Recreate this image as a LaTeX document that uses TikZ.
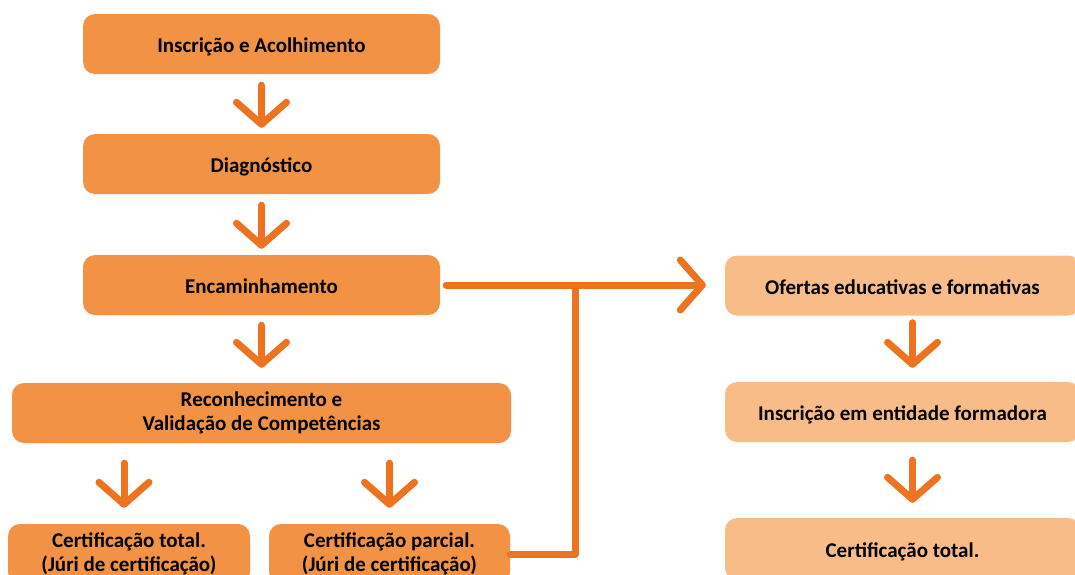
\documentclass[tikz,border=0pt]{standalone}
\usepackage{fontspec}
\setmainfont{Carlito}
\usetikzlibrary{arrows.meta}
\definecolor{boxdark}{HTML}{F19245}
\definecolor{boxlight}{HTML}{F8BC88}
\definecolor{arr}{HTML}{ED7320}
\begin{document}
\begin{tikzpicture}[x=1pt,y=-1pt,
  box/.style={rounded corners=12pt, fill=boxdark, font=\fontsize{21}{24}\selectfont\bfseries,
    align=center, inner sep=0pt, minimum height=60pt},
  lbox/.style={box, fill=boxlight},
  one/.style={text height=17pt, text depth=0pt},
  flow/.style={draw=arr, line width=7pt, line cap=round, line join=round},
  tip/.style={flow, -{Straight Barb[length=22pt, width=50pt, round]}}]
\useasboundingbox (0,0) rectangle (1075,574);
\clip (0,0) rectangle (1075,574);
% left column
\node[box, one, minimum width=357pt] (n1) at (261.5,44) {Inscrição e Acolhimento};
\node[box, one, minimum width=357pt] (n2) at (261.5,164) {Diagnóstico};
\node[box, one, minimum width=357pt] (n3) at (261.5,285) {Encaminhamento};
\node[box, minimum width=499pt] (n4) at (261.5,413) {Reconhecimento e\\Validação de Competências};
\node[box, minimum width=242pt] (ct) at (129,554) {Certificação total.\\(Júri de certificação)};
\node[box, minimum width=241pt] (cp) at (389.5,554) {Certificação parcial.\\(Júri de certificação)};
% right column
\node[lbox, one, minimum width=355pt] (r1) at (902.5,285.5) {Ofertas educativas e formativas};
\node[lbox, one, minimum width=355pt] (r2) at (902.5,412) {Inscrição em entidade formadora};
\node[lbox, one, minimum width=355pt, minimum height=62pt] (r3) at (902.5,549) {Certificação total.};
\coordinate (j) at (575,285);
% arrows
\draw[tip, shorten <=11pt, shorten >=6pt] (n1.south) -- (n2.north);
\draw[tip, shorten <=11pt, shorten >=6pt] (n2.south) -- (n3.north);
\draw[tip, shorten <=10pt, shorten >=15pt] (n3.south) -- (n4.north);
\draw[tip, shorten <=20pt, shorten >=16pt] ([xshift=-5pt]n4.south -| ct) -- ([xshift=-5pt]ct.north);
\draw[tip, shorten <=20pt, shorten >=16pt] (n4.south -| cp.north) -- (cp.north);
\draw[tip, shorten <=7pt, shorten >=14pt] ([xshift=10pt]r1.south) -- ([xshift=10pt]r2.north);
\draw[tip, shorten <=18pt, shorten >=15pt] ([xshift=10pt]r2.south) -- ([xshift=10pt]r3.north);
\draw[flow, shorten <=6pt] (n3.east) -- (j);
\draw[tip, shorten >=19pt] (cp.east) -| (j) -- (j -| r1.west);
\end{tikzpicture}
\end{document}
